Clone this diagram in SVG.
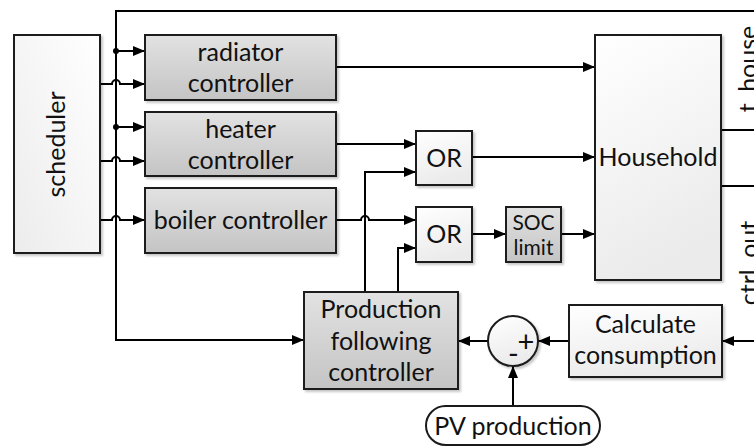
<svg xmlns="http://www.w3.org/2000/svg" width="754" height="446" viewBox="0 0 754 446">
<style>
text{font-family:Lato,"Liberation Sans",sans-serif;font-size:25px;fill:#111;text-anchor:middle}
.small{font-size:21px}
.sign{font-size:29px}
.box{stroke:#1a1a1a;stroke-width:2}
.gray{fill:url(#gGray)}
.white{fill:url(#gWhite)}
.ln{fill:none;stroke:#000;stroke-width:2}
.arr{fill:none;stroke:#000;stroke-width:2;marker-end:url(#ah)}
</style>
<defs>
<linearGradient id="gGray" x1="0" y1="0" x2="0" y2="1">
<stop offset="0" stop-color="#e2e2e2"/><stop offset="1" stop-color="#c4c4c4"/>
</linearGradient>
<linearGradient id="gWhite" x1="0" y1="0" x2="0.3" y2="1">
<stop offset="0" stop-color="#ffffff"/><stop offset="1" stop-color="#ebebeb"/>
</linearGradient>
<linearGradient id="gSched" x1="1" y1="0" x2="0" y2="1">
<stop offset="0" stop-color="#ffffff"/><stop offset="1" stop-color="#ececec"/>
</linearGradient>
<filter id="sh" x="-10%" y="-10%" width="130%" height="130%">
<feDropShadow dx="2" dy="2" stdDeviation="1.2" flood-color="#000" flood-opacity="0.22"/>
</filter>
<marker id="ah" viewBox="0 0 12 10" refX="12" refY="5" markerWidth="12" markerHeight="10" markerUnits="userSpaceOnUse" orient="auto">
<path d="M0,0 L12,5 L0,10 Z" fill="#000"/>
</marker>
</defs>

<g id="connectors">
<path class="arr" d="M754,11 H116 V340 H304"/>
<path class="arr" d="M116,51 H145"/>
<path class="arr" d="M116,127 H145"/>
<circle cx="116" cy="51" r="3" fill="#000"/>
<circle cx="116" cy="127" r="3" fill="#000"/>
<path class="arr" d="M100,84 H112 A4,4 0 0 1 120,84 H145"/>
<path class="arr" d="M100,161 H112 A4,4 0 0 1 120,161 H145"/>
<path class="arr" d="M100,220 H112 A4,4 0 0 1 120,220 H145"/>
<path class="arr" d="M336,67 H595"/>
<path class="arr" d="M336,144 H416"/>
<path class="arr" d="M472,157 H595"/>
<path class="arr" d="M336,220 H361 A4,4 0 0 1 369,220 H416"/>
<path class="arr" d="M365,292 V172 H416"/>
<path class="arr" d="M398,292 V248 H416"/>
<path class="arr" d="M472,234 H506"/>
<path class="arr" d="M561,234 H595"/>
<path class="ln" d="M721,130 H754"/>
<path class="ln" d="M721,186 H754"/>
<path class="arr" d="M754,341 H722"/>
<path class="arr" d="M569,341 H538"/>
<path class="arr" d="M488,341 H458"/>
<path class="arr" d="M513,406 V366"/>
</g>

<g id="scheduler">
<rect class="box" x="14" y="35" width="86" height="218" fill="url(#gSched)" filter="url(#sh)"/>
<text transform="translate(65,144.5) rotate(-90)">scheduler</text>
</g>
<g id="radiator-controller">
<rect class="box gray" x="145" y="35" width="191" height="65" filter="url(#sh)"/>
<text x="240.5" y="61">radiator</text>
<text x="240.5" y="92">controller</text>
</g>
<g id="heater-controller">
<rect class="box gray" x="145" y="112" width="191" height="64" filter="url(#sh)"/>
<text x="240.5" y="138">heater</text>
<text x="240.5" y="169">controller</text>
</g>
<g id="boiler-controller">
<rect class="box gray" x="145" y="188" width="191" height="65" filter="url(#sh)"/>
<text x="240.5" y="229">boiler controller</text>
</g>
<g id="or1">
<rect class="box white" x="416" y="131" width="56" height="54" filter="url(#sh)"/>
<text x="444" y="166.5">OR</text>
</g>
<g id="or2">
<rect class="box white" x="416" y="207" width="56" height="55" filter="url(#sh)"/>
<text x="444" y="243">OR</text>
</g>
<g id="soc-limit">
<rect class="box gray" x="506" y="207" width="55" height="55" filter="url(#sh)"/>
<text class="small" x="533.5" y="229.5">SOC</text>
<text class="small" x="533.5" y="255">limit</text>
</g>
<g id="household">
<rect class="box white" x="595" y="35" width="126" height="245" filter="url(#sh)"/>
<text x="658" y="166">Household</text>
</g>
<g id="production-following-controller">
<rect class="box gray" x="304" y="292" width="154" height="97" filter="url(#sh)"/>
<text x="381" y="318">Production</text>
<text x="381" y="350">following</text>
<text x="381" y="381">controller</text>
</g>
<g id="sum">
<circle class="box white" cx="513" cy="341" r="25" filter="url(#sh)"/>
<text class="sign" x="526" y="352">+</text>
<text class="sign" x="513.5" y="364">-</text>
</g>
<g id="calculate-consumption">
<rect class="box white" x="569" y="305" width="153" height="72" filter="url(#sh)"/>
<text x="645.5" y="333">Calculate</text>
<text x="645.5" y="364">consumption</text>
</g>
<g id="pv-production">
<rect class="box" x="426" y="406" width="174" height="39" rx="19.5" ry="19.5" fill="#fff"/>
<text x="513" y="435">PV production</text>
</g>
<g id="labels">
<text transform="translate(757,69) rotate(-90)">t_house</text>
<text transform="translate(758,263) rotate(-90)">ctrl_out</text>
</g>
</svg>
